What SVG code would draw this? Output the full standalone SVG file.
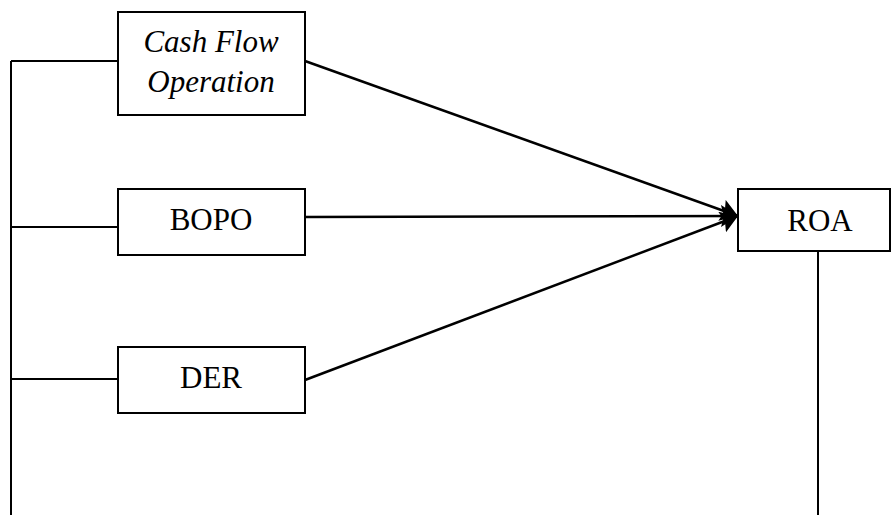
<svg xmlns="http://www.w3.org/2000/svg" width="891" height="515" viewBox="0 0 891 515">
<style>
.box{fill:#fff;stroke:#000;stroke-width:2}
.ln{fill:none;stroke:#000;stroke-width:2}
.ar{fill:none;stroke:#000;stroke-width:2.5}
.i{font-style:italic}
</style>
<defs>
<marker id="ah" markerWidth="17" markerHeight="22" refX="17" refY="11" orient="auto" markerUnits="userSpaceOnUse">
<path d="M0,0 L17,11 L0,22 L3,11 Z" fill="#000"/>
</marker>
</defs>
<g id="connectors">
<path class="ln" d="M11,61 V515 M11,61 H118 M11,227 H118 M11,379 H118"/>
<line class="ar" x1="305" y1="61" x2="738" y2="216" marker-end="url(#ah)"/>
<line class="ar" x1="305" y1="217" x2="738" y2="216" marker-end="url(#ah)"/>
<line class="ar" x1="305" y1="380" x2="738" y2="216" marker-end="url(#ah)"/>
<line class="ln" x1="818" y1="251" x2="818" y2="515"/>
</g>
<g font-family="Liberation Serif, Times New Roman, DejaVu Serif, serif" font-size="31" text-anchor="middle" fill="#000">
<g id="cfo">
<rect class="box" x="118" y="12" width="187" height="103"/>
<text class="i" x="211" y="52">Cash Flow</text>
<text class="i" x="211" y="92">Operation</text>
</g>
<g id="bopo">
<rect class="box" x="118" y="189" width="187" height="66"/>
<text x="211" y="230">BOPO</text>
</g>
<g id="der">
<rect class="box" x="118" y="347" width="187" height="66"/>
<text x="211" y="388">DER</text>
</g>
<g id="roa">
<rect class="box" x="738" y="189" width="152" height="62"/>
<text x="820" y="231">ROA</text>
</g>
</g>
</svg>
